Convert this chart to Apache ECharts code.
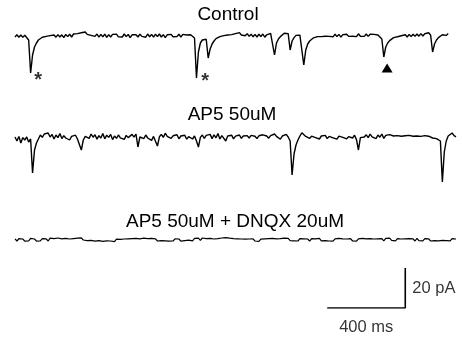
<!DOCTYPE html>
<html>
<head>
<meta charset="utf-8">
<script src="https://cdn.jsdelivr.net/npm/echarts@6/dist/echarts.min.js"></script>
<style>
html,body{margin:0;padding:0;background:#fff;}
#chart{width:462px;height:338px;}
</style>
</head>
<body>
<div id="chart"></div>
<script>
// Sampling step of all traces (ms)
var STEP_MS = 10;
var TIME_MAX_MS = 2260;

var traceTitles = ['Control', 'AP5 50uM', 'AP5 50uM + DNQX 20uM'];

// Control trace (pA, relative to baseline), one value every 10 ms
var controlTrace = [
 -0.5, 0.6, -0.6, 0.5, -0.7, 0.4, -0.4, -2.0, -18.5, -9.5,
 -5.5, -3.5, -2.0, -2.2, -0.6, -1.5, -0.2, -1.1, 0.2, -0.8,
 0.5, -0.6, 0.7, -0.5, 0.6, -0.8, 0.8, -0.3, 0.9, -0.5,
 1.0, 0.0, 1.2, 0.2, 1.6, 0.6, 2.0, 0.8, 1.7, 0.3,
 1.3, -0.2, 1.0, -0.6, 0.8, -0.4, 0.9, -0.7, 0.7, -0.5,
 0.8, -0.1, 0.9, -0.4, 0.6, -0.5, 1.0, -0.3, 0.8, -0.8,
 0.6, -0.3, 0.7, -0.5, 0.9, -0.2, 0.5, -0.6, 1.0, -0.4,
 0.8, -0.6, 0.9, -0.3, 1.0, -0.5, 0.7, -0.8, 0.6, 0.1,
 0.8, -0.4, 0.6, -0.3, 0.9, -0.5, 0.8, -0.2, 0.5, -0.4,
 0.6, -0.2, -1.0, -21.0, -8.0, -3.5, -2.0, -1.0, -1.6, -11.0,
 -6.5, -4.0, -2.5, -1.3, -1.4, -0.3, -0.6, 0.2, -0.4, 0.5,
 -0.2, 0.7, 0.0, 1.2, 0.4, 1.7, 0.5, 1.5, 0.1, 1.2,
 -0.2, 0.9, -0.4, 0.8, -0.5, 0.9, -0.3, 1.0, -0.6, 0.6,
 0.1, 1.3, 0.4, -9.5, -3.5, -1.5, -0.3, 0.6, 1.4, 0.6,
 1.2, -7.0, -2.5, -0.8, 0.3, 1.2, 0.4, -0.5, -14.5, -7.0,
 -4.0, -2.5, -1.5, -0.9, -0.2, -0.3, 0.3, -0.3, 0.5, -0.1,
 0.7, -0.2, 0.6, -0.4, 0.9, -0.3, 0.8, -0.6, 0.7, 0.0,
 0.9, -0.2, 0.8, -0.1, 0.6, -0.3, 1.1, -0.1, 0.9, -0.2,
 1.0, -0.2, 0.9, 0.3, 0.8, -0.1, 0.5, -0.4, -1.5, -10.5,
 -5.5, -3.5, -2.3, -1.6, -0.8, -1.0, -0.4, -0.6, 0.1, -0.4,
 0.6, -0.5, 0.8, -0.3, 0.9, -0.2, 1.0, -0.1, 1.2, 0.0,
 1.1, 0.3, 1.6, 0.4, -8.0, -4.0, -2.0, -0.8, 0.0, 0.6,
 1.2, 0.3, 1.2
];

// AP5 50uM trace (pA)
var ap5Trace = [
 0.5, -1.5, 0.8, -2.5, 0.2, -1.0, 0.5, -2.0, -0.5, -17.5,
 -6.0, -2.5, -0.5, 1.5, 0.3, 2.0, 1.0, 2.5, 0.5, 1.8,
 -0.5, 1.5, 0.2, 2.2, -0.3, 1.2, 0.0, 1.0, -1.0, 0.8,
 0.2, 1.4, -0.5, 0.5, -6.0, -1.0, 0.8, 1.5, -0.2, 2.0,
 0.4, 1.6, -0.6, 1.2, 0.0, 2.2, -0.4, 1.4, 0.3, 1.8,
 -0.8, 1.0, -0.2, 1.5, 0.1, 0.9, -0.7, 1.3, 0.2, -0.5,
 1.8, 0.4, 2.0, -4.5, 0.5, 1.2, -0.3, 1.5, 0.0, 1.0,
 -1.2, 0.8, 0.2, -4.0, 0.6, 1.8, 0.3, 2.4, 0.8, 1.5,
 -0.2, 1.1, 0.5, 1.6, -0.4, 1.0, 0.2, 1.4, -0.6, 0.7,
 1.2, -0.5, 1.0, -1.5, -4.5, 0.3, 1.5, -0.2, 1.3, 0.4,
 1.8, -0.3, 1.6, 0.1, 2.2, -0.5, 1.2, 0.3, -1.5, 1.0,
 0.2, 1.4, -0.4, 0.9, 0.4, 1.5, -0.2, 1.0, 0.6, 1.2,
 0.0, 1.3, 0.5, 0.9, -0.3, 1.1, 0.2, 1.6, 0.6, 1.0,
 -0.1, 1.2, 0.4, 2.0, 0.8, 1.4, -0.6, 1.0, 0.3, 1.8,
 0.5, -1.5, -18.5, -8.0, -3.5, -1.0, 1.0, 2.6, 1.8, 0.8,
 1.6, -0.2, 0.9, 1.5, 0.2, 1.2, -0.5, 1.0, 0.4, 1.3,
 -0.3, 0.8, 1.4, 0.1, 1.0, -0.6, 0.9, 1.6, 0.3, 1.1,
 -0.4, 0.7, 1.2, 0.0, 1.4, -0.8, -6.0, 0.2, 1.2, 0.5,
 1.6, 0.2, 1.9, 0.6, 1.2, -0.3, 1.5, 0.4, 2.0, -0.2,
 1.3, 0.5, 1.7, 0.8, 1.0, 0.2, 1.2, 0.6, 0.9, 0.3,
 1.1, 0.4, 1.3, 0.7, 0.9, 0.2, 1.0, 0.5, 0.8, 0.1,
 1.2, 0.3, 0.9, 0.5, 0.0, 0.6, -0.3, 0.2, -1.5, -22.0,
 -7.0, -1.5, 1.0, 1.8, 2.5, 1.2, 0.6
];

// AP5 50uM + DNQX 20uM trace (pA)
var dnqxTrace = [
 0.6, -0.5, 0.7, -0.3, 0.5, -0.6, 0.4, -0.4, 0.8, -0.2,
 0.5, -0.6, 0.3, -0.4, 0.7, -0.1, 0.6, -0.5, 0.9, 0.0,
 0.7, -0.3, 1.0, 0.1, 0.6, -0.4, 0.8, -0.2, 0.5, -0.5,
 0.7, -0.1, 0.9, 0.2, 1.1, 0.0, 0.8, -0.3, 0.6, -0.2,
 0.5, -0.6, 0.4, -0.3, 0.6, -0.7, 0.3, -0.4, 0.5, -0.5,
 0.2, -0.8, 0.4, -0.5, 0.3, -0.7, 0.5, -0.3, 0.6, -0.4,
 0.7, -0.2, 0.8, -0.1, 0.6, -0.4, 0.9, 0.0, 0.7, -0.3,
 0.8, -0.2, 0.6, -0.5, 0.4, -0.3, 0.7, -0.4, 0.5, -0.6,
 0.3, -0.5, 0.6, -0.2, 0.5, -0.6, 0.4, -0.3, 0.7, -0.1,
 0.6, -0.4, 0.8, 0.0, 0.9, -0.2, 1.0, 0.1, 0.7, -0.3,
 0.8, -0.1, 0.5, -0.4, 0.7, -0.2, 1.0, 0.2, 1.2, 0.3,
 0.9, 0.0, 0.7, -0.3, 0.6, -0.4, 0.5, -0.5, 0.4, -0.6,
 0.5, -0.3, 0.6, -0.5, 0.3, -0.7, 0.4, -0.4, 0.6, -0.2,
 0.7, -0.3, 0.8, -0.1, 0.6, -0.4, 0.7, -0.2, 0.9, 0.0,
 0.8, -0.3, 0.6, -0.4, 0.5, -0.5, 0.7, -0.2, 0.6, -0.4,
 0.5, -0.6, 0.7, -0.3, 0.6, -0.2, 0.8, -0.4, 0.5, -0.3,
 0.7, -0.5, 0.4, -0.6, 0.6, -0.2, 0.8, -0.1, 0.6, -0.4,
 0.5, -0.3, 0.7, -0.5, 0.4, -0.6, 0.6, -0.3, 0.8, -0.2,
 0.6, -0.4, 0.7, -0.2, 0.5, -0.5, 0.6, -0.3, 0.7, -0.4,
 0.8, -0.1, 0.9, -0.2, 0.6, -0.4, 0.7, -0.3, 0.5, -0.5,
 0.6, -0.4, 0.7, -0.2, 0.6, -0.5, 0.8, -0.3, 0.5, -0.4,
 0.7, -0.2, 0.6, -0.5, 0.5, -0.3, 0.7, -0.4, 0.6, -0.2,
 0.8, -0.3, 0.6, -0.4, 0.7, -0.2, 0.5
];

// Event annotations on the control trace: [time ms, pA]
var asteriskMarks = [[118, -19], [974, -19.5]];
var triangleMarks = [[1907, -16]];

// Scale bar: 400 ms horizontal, 20 pA vertical
var scaleBarTimeMs = 400;
var scaleBarCurrentPa = 20;
var scaleBarStartMs = 1600;
var scaleBarLabels = ['20 pA', '400 ms'];

function toXY(arr) {
  return arr.map(function (v, i) { return [i * STEP_MS, v]; });
}

var chart = echarts.init(document.getElementById('chart'), null, {renderer: 'canvas'});

var gridLeft = 15, gridWidth = 441;
var grids = [
  {left: gridLeft, width: gridWidth, top: 20, height: 70},
  {left: gridLeft, width: gridWidth, top: 116, height: 70},
  {left: gridLeft, width: gridWidth, top: 230, height: 20},
  {left: gridLeft, width: gridWidth, top: 260, height: 48}
];
var yRanges = [[-27, 8], [-24, 11], [-5, 5], [0, 24]];

var xAxes = grids.map(function (g, i) {
  return {type: 'value', gridIndex: i, min: 0, max: TIME_MAX_MS, show: false};
});
var yAxes = yRanges.map(function (r, i) {
  return {type: 'value', gridIndex: i, min: r[0], max: r[1], show: false};
});

var lineCommon = {
  type: 'line', showSymbol: false, symbol: 'none', silent: true,
  lineStyle: {color: '#000', width: 1.4}, animation: false
};

var sbEnd = scaleBarStartMs + scaleBarTimeMs;
var FONT = '"Liberation Sans", Arial, sans-serif';

var option = {
  backgroundColor: '#fff',
  animation: false,
  grid: grids,
  xAxis: xAxes,
  yAxis: yAxes,
  graphic: [
    {type: 'text', x: 228, y: 15, style: {text: traceTitles[0], textAlign: 'center', textVerticalAlign: 'middle', font: '19px ' + FONT, fill: '#000'}},
    {type: 'text', x: 232, y: 115, style: {text: traceTitles[1], textAlign: 'center', textVerticalAlign: 'middle', font: '19px ' + FONT, fill: '#000'}},
    {type: 'text', x: 235, y: 222, style: {text: traceTitles[2], textAlign: 'center', textVerticalAlign: 'middle', font: '19px ' + FONT, fill: '#000'}}
  ],
  series: [
    Object.assign({}, lineCommon, {xAxisIndex: 0, yAxisIndex: 0, data: toXY(controlTrace)}),
    Object.assign({}, lineCommon, {xAxisIndex: 1, yAxisIndex: 1, data: toXY(ap5Trace)}),
    Object.assign({}, lineCommon, {xAxisIndex: 2, yAxisIndex: 2, data: toXY(dnqxTrace), lineStyle: {color: '#000', width: 1.2}}),
    {
      type: 'scatter', xAxisIndex: 0, yAxisIndex: 0, silent: true,
      data: asteriskMarks, symbolSize: 0,
      label: {show: true, formatter: '*', position: 'inside', color: '#000',
        fontSize: 20, fontWeight: 'bold', fontFamily: FONT, offset: [0, 6]}
    },
    {
      type: 'scatter', xAxisIndex: 0, yAxisIndex: 0, silent: true,
      data: triangleMarks, symbol: 'triangle', symbolSize: [11, 9],
      itemStyle: {color: '#000', opacity: 1}
    },
    Object.assign({}, lineCommon, {
      xAxisIndex: 3, yAxisIndex: 3,
      data: [[scaleBarStartMs, 0], [sbEnd, 0], [sbEnd, scaleBarCurrentPa]],
      lineStyle: {color: '#000', width: 1.6}
    }),
    {
      type: 'scatter', xAxisIndex: 3, yAxisIndex: 3, silent: true, symbolSize: 0,
      data: [
        {value: [sbEnd, scaleBarCurrentPa / 2], label: {formatter: scaleBarLabels[0], position: 'right', distance: 7}},
        {value: [scaleBarStartMs + scaleBarTimeMs / 2, 0], label: {formatter: scaleBarLabels[1], position: 'bottom', distance: 11}}
      ],
      label: {show: true, color: '#000', fontSize: 16.5, fontFamily: FONT}
    }
  ]
};
chart.setOption(option);
</script>
</body>
</html>
